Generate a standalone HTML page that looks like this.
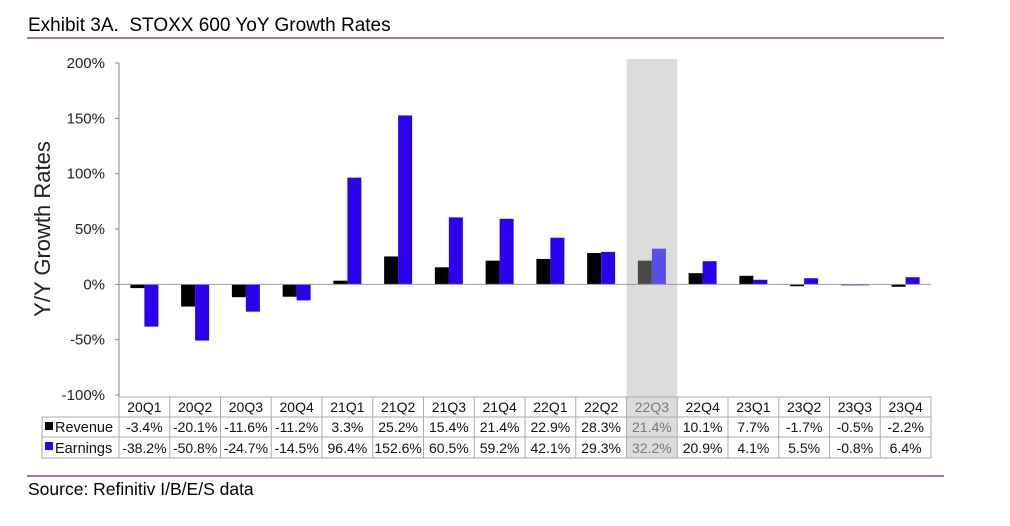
<!DOCTYPE html>
<html><head><meta charset="utf-8"><style>
body{margin:0;background:#fff;font-family:"Liberation Sans",Arial,sans-serif;}
svg text{font-family:"Liberation Sans",Arial,sans-serif;white-space:pre;}
</style></head><body>
<svg id="c" width="1010" height="521" xmlns="http://www.w3.org/2000/svg">
<text x="28" y="31" font-size="19" fill="#000" xml:space="preserve">Exhibit 3A.  STOXX 600 YoY Growth Rates</text>
<line x1="27" y1="38" x2="944" y2="38" stroke="#5a2a6a" stroke-width="1.2"/>
<line x1="27" y1="476" x2="944" y2="476" stroke="#5a2a6a" stroke-width="1.2"/>
<text x="28" y="495" font-size="17.5" fill="#000">Source: Refinitiv I/B/E/S data</text>
<text transform="translate(50,229) rotate(-90)" text-anchor="middle" font-size="22" fill="#222">Y/Y Growth Rates</text>
<g id="g"></g>
</svg>
<script>
const categories=["20Q1","20Q2","20Q3","20Q4","21Q1","21Q2","21Q3","21Q4","22Q1","22Q2","22Q3","22Q4","23Q1","23Q2","23Q3","23Q4"];
const revenue=[-3.4,-20.1,-11.6,-11.2,3.3,25.2,15.4,21.4,22.9,28.3,21.4,10.1,7.7,-1.7,-0.5,-2.2];
const earnings=[-38.2,-50.8,-24.7,-14.5,96.4,152.6,60.5,59.2,42.1,29.3,32.2,20.9,4.1,5.5,-0.8,6.4];
const ticks=[200,150,100,50,0,-50,-100];
const highlightIndex=10;
const NS="http://www.w3.org/2000/svg";
const g=document.getElementById('g');
const x0=119,x1=931,yTop=63,yBot=395;
const cw=(x1-x0)/categories.length;
const y=v=>yTop+(200-v)/300*(yBot-yTop);
const xc=i=>x0+cw*i;
function el(t,a,txt){const e=document.createElementNS(NS,t);for(const k in a)e.setAttribute(k,a[k]);if(txt!=null)e.textContent=txt;g.appendChild(e);return e;}
let h=el('rect',{x:xc(highlightIndex),y:59,width:cw,height:399,fill:'#dcdcdc'});


let ax=el('line',{x1:x0,y1:yTop,x2:x0,y2:yBot+2,stroke:'#888'});


ticks.forEach(t=>{
 let tl=el('line',{x1:x0-4,y1:y(t),x2:x0,y2:y(t),stroke:'#888'});
 
 
 let tx=el('text',{x:x0-14,y:y(t)+5,'text-anchor':'end','font-size':15,fill:'#222'},t+'%');
 
 
});
const bw=14;
categories.forEach((c,i)=>{
 const hl=i===highlightIndex;
 const cx=xc(i)+cw/2;
 let r=revenue[i];
 let b=el('rect',{x:cx-bw,y:Math.min(y(r),y(0)),width:bw,height:Math.max(Math.abs(y(r)-y(0)),1),fill:hl?'#4a4a4a':'#000'});
 
 
 let e=earnings[i];
 let b2=el('rect',{x:cx,y:Math.min(y(e),y(0)),width:bw,height:Math.max(Math.abs(y(e)-y(0)),1),fill:hl?'#5a4ee8':'#2a00ee'});
 
 
});
let zl=el('line',{x1:x0,y1:y(0),x2:x1,y2:y(0),stroke:'#999'});


const gc='#aaa';
let tb=el('rect',{x:42,y:417,width:x1-42,height:41,fill:'none',stroke:gc});


[[x0,397,x1,397],[42,437,x1,437]].forEach(l=>{let ln=el('line',{x1:l[0],y1:l[1],x2:l[2],y2:l[3],stroke:gc});});
let rl=el('line',{x1:x1,y1:397,x2:x1,y2:458,stroke:gc});
categories.forEach((c,i)=>{
 let vl=el('line',{x1:xc(i),y1:397,x2:xc(i),y2:458,stroke:gc});
 
 
 const col=i===highlightIndex?'#777':'#111';
 const cx=xc(i)+cw/2;
 let t1=el('text',{x:cx,y:412,'text-anchor':'middle','font-size':14,fill:col},c);
 
 
 let t2=el('text',{x:cx,y:432,'text-anchor':'middle','font-size':14,fill:col},revenue[i].toFixed(1)+'%');
 
 
 let t3=el('text',{x:cx,y:453,'text-anchor':'middle','font-size':14,fill:col},earnings[i].toFixed(1)+'%');
 
 
});
let k1=el('rect',{x:45,y:422,width:8,height:8,fill:'#000'});


let l1=el('text',{x:55,y:432,'font-size':14.5,fill:'#111'},'Revenue');


let k2=el('rect',{x:45,y:442,width:8,height:8,fill:'#2a00ee'});


let l2=el('text',{x:55,y:453,'font-size':14.5,fill:'#111'},'Earnings');


</script>
</body></html>
